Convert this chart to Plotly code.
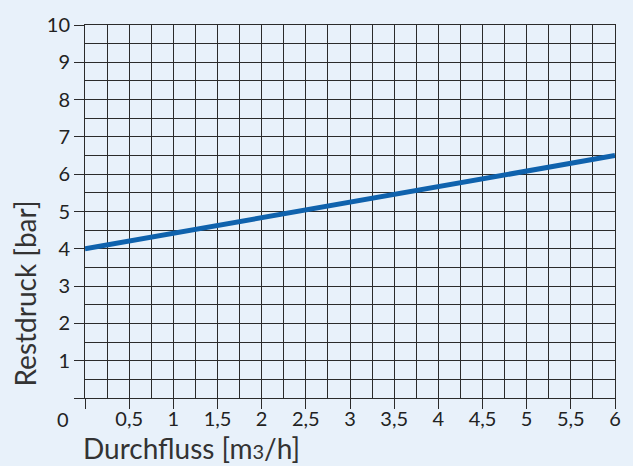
import plotly.graph_objects as go

flow = [0, 6]
pressure = [4.0, 6.5]
x_tickvals = [0, 0.5, 1, 1.5, 2, 2.5, 3, 3.5, 4, 4.5, 5, 5.5, 6]
x_ticktext = ["", "0,5", "1", "1,5", "2", "2,5", "3", "3,5", "4", "4,5", "5", "5,5", "6"]
y_tickvals = [0, 1, 2, 3, 4, 5, 6, 7, 8, 9, 10]
y_ticktext = ["", "1", "2", "3", "4", "5", "6", "7", "8", "9", "10"]

BG = "#e8f1fa"
GRID = "#2b2b2b"
FONT = "Lato"

fig = go.Figure()
fig.add_trace(go.Scatter(x=flow, y=pressure, mode="lines",
                         line=dict(color="#0f62ad", width=5), hoverinfo="skip"))

fig.update_layout(
    width=633, height=466,
    paper_bgcolor=BG, plot_bgcolor=BG,
    margin=dict(l=85, r=14, t=22, b=68),
    showlegend=False,
    font=dict(family=FONT, color="#222222", size=20),
    xaxis=dict(range=[0, 6], tickvals=x_tickvals, ticktext=x_ticktext,
               ticks="outside", ticklen=10, tickcolor=GRID, tickwidth=1,
               ticklabelstandoff=-7,
               showgrid=True, gridcolor=GRID, gridwidth=1,
               minor=dict(dtick=0.25, showgrid=True, gridcolor=GRID, gridwidth=1),
               showline=True, linecolor=GRID, linewidth=1, mirror=True,
               zeroline=False, fixedrange=True),
    yaxis=dict(range=[0, 10], tickvals=y_tickvals, ticktext=y_ticktext,
               ticks="outside", ticklen=10, tickcolor=GRID, tickwidth=1,
               showgrid=True, gridcolor=GRID, gridwidth=1,
               minor=dict(dtick=0.5, showgrid=True, gridcolor=GRID, gridwidth=1),
               showline=True, linecolor=GRID, linewidth=1, mirror=True,
               zeroline=False, fixedrange=True),
    annotations=[
        dict(text="0", xref="paper", yref="paper", x=-0.041, y=-0.056,
             showarrow=False, xanchor="center", yanchor="middle",
             font=dict(size=20, family=FONT, color="#222222")),
        dict(text="Durchfluss [m<span style='font-size:20px'>3</span>/h]",
             xref="paper", yref="paper",
             x=-0.008, y=-0.133, showarrow=False, xanchor="left", yanchor="middle",
             font=dict(size=28, family=FONT, color="#333333")),
        dict(text="Restdruck [bar]", xref="paper", yref="paper",
             x=-0.114, y=0.279, showarrow=False, textangle=-90,
             xanchor="center", yanchor="middle",
             font=dict(size=28, family=FONT, color="#333333")),
    ],
)

fig.write_html("out.html", config={"displayModeBar": False},
               post_script="document.body.style.margin='0';document.body.style.background='%s';" % BG)
